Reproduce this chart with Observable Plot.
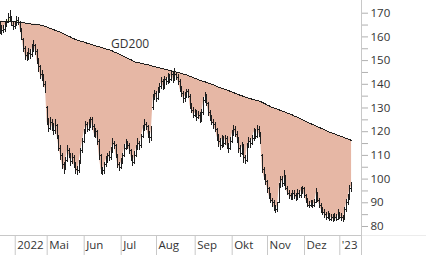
<!DOCTYPE html>
<html><head><meta charset="utf-8">
<script src="https://cdn.jsdelivr.net/npm/d3@7"></script>
<script src="https://cdn.jsdelivr.net/npm/@observablehq/plot@0.6"></script>
<style>
body{margin:0;background:#fff;}
g[aria-label="y-axis tick"] path{stroke:#b0b0b0;}
</style></head><body><div id="chart"></div>
<script>
// Trading-day index 0 = 21 Mar 2022 ... 209 = 11 Jan 2023
const op = [165,163.5,162.5,163,165.5,166,168,167,165,164.5,
165.5,167,166,163,159,155,152,151.5,153,152.5,
155,156.5,154,150,147.5,144,142.5,140,130,124,
121.5,124,122,120.5,122.5,118,113,110,106,104.5,
108,112,110,107.5,109,106,104,103.5,107,112,
116,120,123,121,123,125,122,119,120,116,
110,104,103.5,106,108,110,109,112,115,114,
110,106,105,107,110,113,115,114,112,109,
107,110,113,115,114,118,121,123,122,119,
117.5,130,134,136,134,137,139,141,139,142,
141,143,142,144,142,144,143,141,138,136,
134,135,137,135,131,129,127,128,126,127,
125,128,133,135,132,128,126,124,123,121,
118,116,114,117,115,117,114,113,116,119,
121,119,117,113,111,114,109,108,114,116,
115,117,120,118,121,119,110,104,101,99,
96,93,91,90,88,87,90,97,100,98,
101,96,94,93,92,94,93,92,94,93,
95,96,93,91,89,89,90,89,90,94,
91,89,87,86,85,84,85,83,84,83,
84,83,85,84,84,83,87,90,92,96];
const cl = [164,162,163.5,165,166,167.5,168,165.5,164,165,
167,166.5,163,160,155,152,151,153.5,152,155,
157,154,150,147,144,143,140,138,124,121,
124,122,120,123,118,113,110,106,104,108,
112,110,107,109,106,104,103,107,112,116,
120,123,121,123,125,122,119,120,116,110,
104,103,106,108,110,109,112,115,114,110,
106,105,107,110,113,115,114,112,109,107,
110,113,115,114,118,121,123,122,119,117,
121,134,136,134,137,139,141,139,142,141,
143,142,144,142,144,143,141,138,136,134,
135,137,136,131,129,127,128,126,127,125,
128,133,135,132,128,126,124,123,121,118,
116,114,117,115,117,114,113,116,119,121,
119,117,113,111,114,109,108,114,116,115,
117,120,118,121,119,116,104,101,99,96,
93,91,90,88,87,89,97,100,98,101,
96,94,93,92,94,93,92,94,93,95,
96,93,91,89,89,90,89,90,94,91,
89,87,86,85,84,85,83,84,83,84,
83,85,84,84,83,87,90,92,96,97];
const hi = [166.5,165,165,166.5,167.5,170,171,168.5,166,166.5,
168.5,168,166.5,163.5,159.5,156,153.5,155,154.5,157,
158.5,157,154.5,151,148,146,144,141,130.5,125.5,
126,125,123.5,125,123,118.5,114,111,107,109,
114,113,111,111,110,107,105.5,108,113,117,
121,124.5,124,125,126,126,123,121.5,120.5,116.5,
110.5,105,107,109.5,111,111.5,113.5,117,116,114.5,
110.5,107,108.5,111,114.5,116.5,116,115,112.5,110,
111.5,114,117,116,119,122.5,125,124,122.5,120,
122,135.5,137.5,137,138.5,140.5,143,142,143.5,143,
144.5,144,145.5,145,146.5,145,144,142,139,137,
136.5,138,138,135.5,132,130,129.5,129,128.5,128,
129.5,134.5,136.5,135.5,132.5,129,127,125,124,121.5,
119,117,118.5,118,118.5,118,115,117.5,120.5,122.5,
122,120,117.5,114,115.5,114.5,110,115,117.5,117,
118.5,121.5,121,122.5,122,119.5,110.5,105,102,99.5,
96.5,94,92,91,89,90,98,101,101,103.5,
101.5,97,95,94,95,95,94,95.5,95,96.5,
97,96.5,93.5,92,90.5,91,91,91.5,96,94.5,
92,89.5,88,87,86,86.5,85.5,85,85,85.5,
85,87,86,85.5,84.5,88,91.5,93.5,97.5,98.5];
const lo = [161,160.5,161.5,162,164,165.5,166,164.5,162.5,163,
164.5,165,162,158.5,153.5,150,149.5,150,150.5,151.5,
153.5,152,148.5,145,142,141,138.5,136,122.5,119.5,
120.5,120,118.5,119,116.5,111.5,108,104,102,103.5,
107,108.5,105.5,106,104.5,102,101.5,102.5,106,111,
115,119,119.5,120,121.5,120.5,117.5,117,114,108,
102,101.5,102,105,106.5,107.5,108,111,112.5,108.5,
104.5,103,104,106,109,112,112.5,110.5,107.5,105.5,
106,109,112,112,113,117,120,120.5,117,115,
116,129,133,132.5,133,136,138,137.5,138,139.5,
140,140.5,141,140.5,141,141.5,139.5,136.5,134.5,132,
132.5,134,134,129.5,127.5,125.5,126,124.5,125,123.5,
124,127,132,130.5,126.5,124.5,122.5,121,119.5,116,
113.5,112,113,113.5,114,112.5,111,112,115,118,
117.5,115,111,109,110,106.5,106,107,113,113,
114,116,116.5,117,117.5,114.5,102.5,99.5,97.5,94,
91.5,89.5,88,86.5,85.5,86,89.5,96,96.5,97,
95,93,91.5,91,91,91.5,90.5,91,92,92,
93.5,92,89.5,88,87.5,88,87.5,88,89.5,90,
87.5,85.5,84.5,83.5,82.5,83,82,82,81.5,82,
82,82.5,83,82,81.5,82.5,86,89,91,94.5];
// 200-day moving average (GD200)
const ma = [166.6,166.6,166.5,166.5,166.5,166.4,166.4,166.4,166.3,166.3,
166.3,166.2,166.2,166.1,166.0,165.8,165.7,165.6,165.5,165.4,
165.3,165.3,165.2,165.1,165.0,164.8,164.6,164.4,164.1,163.8,
163.6,163.3,163.0,162.7,162.5,162.2,162.0,161.6,161.3,160.9,
160.6,160.2,159.9,159.5,159.2,158.8,158.6,158.4,158.2,158.0,
157.8,157.5,157.3,157.1,156.9,156.6,156.4,156.2,156.0,155.8,
155.6,155.4,155.2,154.9,154.7,154.5,154.3,154.0,153.6,153.3,
153.0,152.6,152.3,152.0,151.6,151.3,151.0,150.6,150.3,149.9,
149.5,149.3,149.2,149.0,148.8,148.7,148.5,148.3,148.2,148.0,
147.8,147.6,147.4,147.2,147.0,146.9,146.7,146.5,146.3,146.1,
146.0,145.8,145.6,145.5,145.3,145.1,145.0,144.8,144.6,144.3,
144.1,143.9,143.6,143.4,143.1,142.8,142.5,142.2,141.9,141.6,
141.4,141.2,141.0,140.7,140.5,140.3,140.0,139.7,139.4,139.1,
138.8,138.5,138.3,138.0,137.8,137.5,137.3,137.0,136.7,136.4,
136.2,135.9,135.6,135.3,135.1,134.8,134.6,134.4,134.1,133.9,
133.7,133.5,133.3,133.1,132.9,132.7,132.3,132.0,131.6,131.2,
130.9,130.5,130.2,130.0,129.7,129.4,129.2,128.9,128.6,128.4,
128.1,127.8,127.6,127.3,127.0,126.6,126.3,126.0,125.6,125.3,
125.0,124.6,124.3,124.0,123.6,123.3,123.0,122.7,122.3,122.0,
121.7,121.4,121.1,120.8,120.4,120.1,119.8,119.5,119.3,119.0,
118.7,118.5,118.2,117.9,117.7,117.4,117.1,116.9,116.6,116.3];
const monthIdx = [9,28,50,72,93,116,138,159,181,202];
const monthLabels = ["2022","Mai","Jun","Jul","Aug","Sep","Okt","Nov","Dez","'23"];
const yTicks = [80,85,90,95,100,105,110,115,120,125,130,135,140,145,150,155,160,165,170];
const maLabel = "GD200";
const maLabelIdx = 66;

const data = cl.map((c, i) => ({i, op: op[i], hi: hi[i], lo: lo[i], cl: c, ma: ma[i]}));
const months = monthIdx.map((m, k) => ({i: m, label: monthLabels[k]}));
const xDom = [0.24, 214.9];
const yDom = [76.2, 175.36];
const ink = "#1e1e1e";

const chart = Plot.plot({
  width: 426, height: 255,
  marginLeft: 0, marginRight: 65, marginTop: 0, marginBottom: 20,
  style: {fontFamily: "'Open Sans', sans-serif", fontSize: "11.5px", color: "#333", background: "#fff"},
  x: {domain: xDom, axis: null},
  y: {domain: yDom, axis: null},
  marks: [
    Plot.areaY(data, {x: "i", y1: d => Math.min(d.cl, d.ma), y2: "ma", fill: "#e6b7a5"}),
    Plot.areaY(data, {x: "i", y1: "ma", y2: d => Math.max(d.cl, d.ma), fill: "#eef0bd"}),
    Plot.line(data, {x: "i", y: "ma", stroke: ink, strokeWidth: 1, shapeRendering: "crispEdges"}),
    Plot.ruleX(data, {x: "i", y1: "lo", y2: "hi", stroke: ink, strokeWidth: 1, shapeRendering: "crispEdges"}),
    Plot.ruleY(data, {y: "op", x1: d => d.i - 0.6, x2: "i", stroke: ink, strokeWidth: 1, shapeRendering: "crispEdges"}),
    Plot.ruleY(data, {y: "cl", x1: "i", x2: d => d.i + 0.6, stroke: ink, strokeWidth: 1, shapeRendering: "crispEdges"}),
    Plot.text([maLabel], {x: () => maLabelIdx, y: () => ma[maLabelIdx], text: d => d, textAnchor: "start", dy: -6, fontSize: 12, fill: "#333"}),
    Plot.ruleY([yDom[0]], {stroke: "#ececec", insetRight: -65}),
    Plot.ruleY([yDom[0]], {stroke: "#c8c8c8"}),
    Plot.ruleX(months, {x: "i", insetTop: 235, insetBottom: -20, stroke: "#c8c8c8"}),
    Plot.text(months, {x: "i", y: () => yDom[0], text: "label", textAnchor: "start", dx: 2, dy: 10, fill: "#333"}),
    Plot.ruleX([xDom[1]], {insetBottom: -20, stroke: "#c8c8c8"}),
    Plot.axisY({anchor: "right", ticks: yTicks, tickSize: 6, tickPadding: 3, tickFormat: d => d % 10 === 0 ? String(d) : "", color: "#333"})
  ]
});
document.getElementById("chart").appendChild(chart);
</script></body></html>
